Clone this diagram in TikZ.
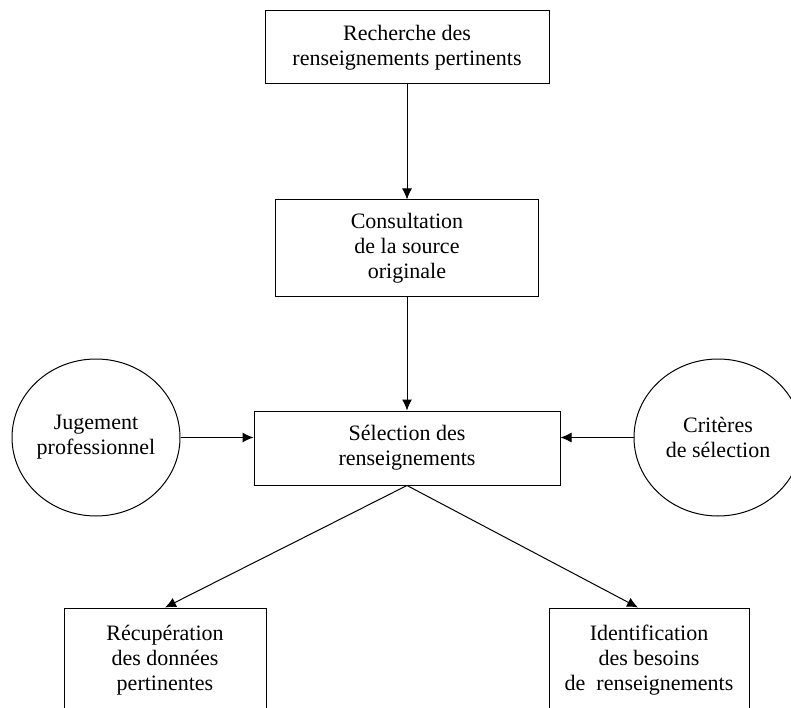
\documentclass[tikz,border=0pt]{standalone}
\usepackage{fontspec}
\setmainfont{Liberation Serif}
\usetikzlibrary{shapes.geometric,arrows.meta,positioning}

\begin{document}
\begin{tikzpicture}[
    x=1pt, y=-1pt,
    node distance=114pt,
    font=\fontsize{22}{25}\selectfont,
    block/.style={rectangle, draw, line width=1pt, align=center, inner sep=0pt},
    bubble/.style={ellipse, draw, line width=1pt, align=center, minimum width=168pt, minimum height=157pt, inner sep=0pt},
    line/.style={draw, line width=1pt, -{Latex[length=11pt,width=10pt]}}
]
    \clip (0,0) rectangle (791,708);

    % Nodes
    \node [block, minimum width=284pt, minimum height=73pt] (rech) at (407,47.5) {Recherche des\\renseignements pertinents};
    \node [block, minimum width=263pt, minimum height=96pt, below=115pt of rech] (cons) {Consultation\\de la source\\originale};
    \node [block, minimum width=306pt, minimum height=74pt, below=of cons] (sel) {S\'election des\\renseignements};
    \node [bubble, left=73pt of sel, yshift=10.5pt] (jug) {Jugement\\professionnel};
    \node [bubble, right=73pt of sel, yshift=10.5pt] (crit) {Crit\`eres\\de s\'election};
    \node [block, minimum width=202pt, minimum height=104pt] (recup) at (165,660) {R\'ecup\'eration\\des donn\'ees\\pertinentes};
    \node [block, minimum width=200pt, minimum height=104pt] (ident) at (649,660) {Identification\\des besoins\\de\ \ renseignements};

    % Paths
    \path [line] (rech) -- (cons);
    \path [line] (cons) -- (sel);
    \path [line] (jug) -- (jug -| sel.west);
    \path [line] (crit) -- (crit -| sel.east);
    \path [line] (sel.south) -- (recup.north);
    \path [line] (sel.south) -- ([xshift=-11pt]ident.north);

\end{tikzpicture}
\end{document}
